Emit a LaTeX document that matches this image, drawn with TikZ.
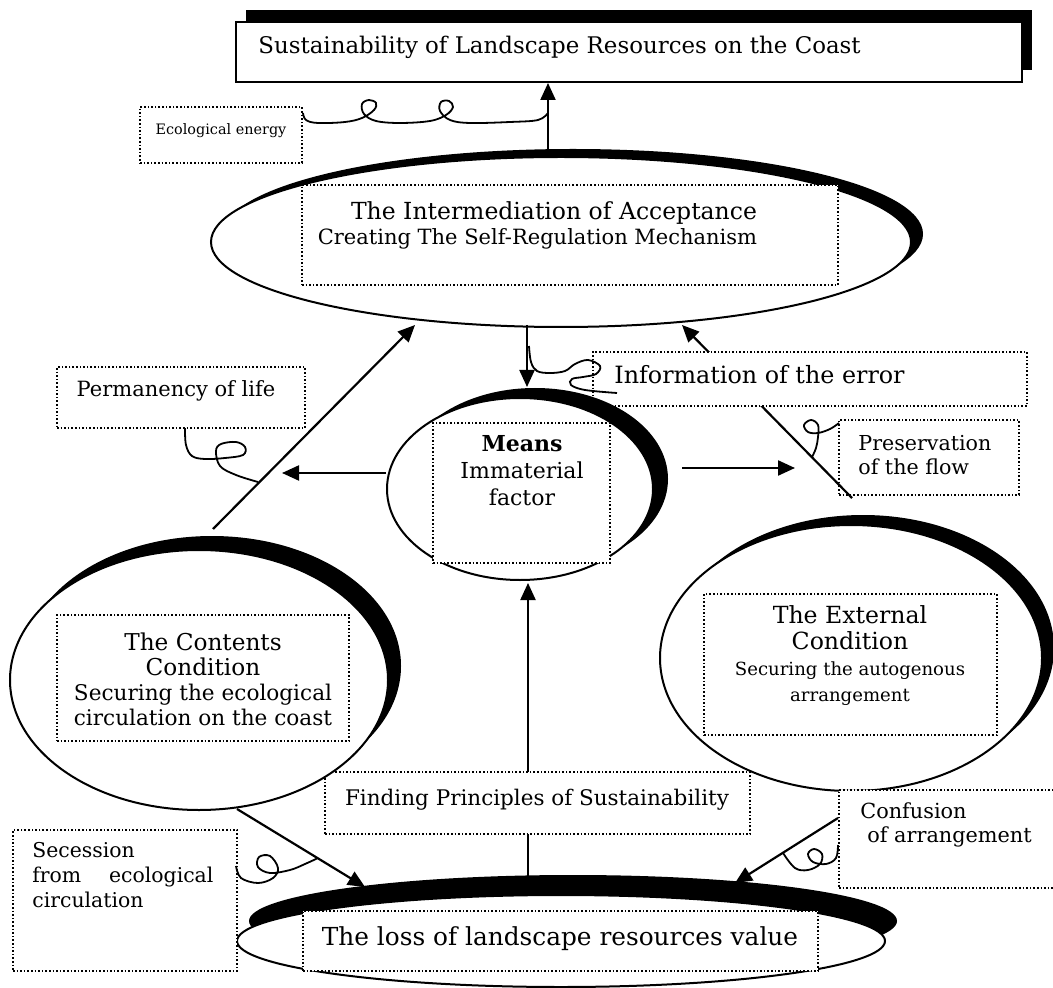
\documentclass[tikz,border=0pt]{standalone}
\usepackage{fontspec}
\setmainfont{DejaVu Serif}
\usetikzlibrary{shapes.geometric,shadows,arrows.meta}
\newcommand{\fsz}[2]{\fontsize{#1}{#2}\selectfont}
\begin{document}
\begin{tikzpicture}[x=0.5pt,y=-0.5pt,
  oval/.style={ellipse, draw, line width=1pt, fill=white, inner sep=0pt},
  dbox/.style={draw, densely dotted, line width=0.8pt, fill=white, inner sep=0pt},
  solidbox/.style={draw, line width=1pt, fill=white, inner sep=0pt},
  txt/.style={inner sep=0pt, align=center},
  arr/.style={line width=1.1pt, -{Triangle[length=8.5pt,width=7.5pt]}},
  squig/.style={line width=0.9pt},
]
\useasboundingbox (0,0) rectangle (1053,988);

% ---- top box
\node[solidbox, minimum width=393pt, minimum height=30pt,
  drop shadow={shadow xshift=5pt, shadow yshift=6pt, opacity=1, fill=black}] (top) at (629,52) {};
\node[txt, anchor=west, font=\fsz{11.45}{13}] (topt) at (258,47) {Sustainability of Landscape Resources on the Coast};

% ---- intermediation
\node[oval, minimum width=350pt, minimum height=85pt,
  drop shadow={shadow xshift=6pt, shadow yshift=4pt, opacity=1, fill=black}] (int) at (561,242) {};
\node[dbox, minimum width=268pt, minimum height=50pt] (intbox) at (570,235) {};
\node[txt, font=\fsz{11.75}{12.5}] (intt) at (554,225) {The Intermediation of Acceptance\\\fsz{10.5}{12.5}Creating The Self-Regulation Mechanism\hspace*{16.5pt}};
\coordinate (a1) at (548,149);
\draw[arr] (a1) -- (a1 |- top.south);

% ---- ecological energy
\node[dbox, minimum width=81pt, minimum height=28pt] (eco) at (221,135) {};
\node[txt, font=\fsz{7.2}{9}] (ecot) at (221,131) {Ecological energy};
\draw[squig] plot[smooth, tension=0.6] coordinates {(303,113) (306,120) (318,123) (345,122) (362,118) (374,110) (376,103) (369,100) (362,104) (364,114) (376,121) (400,123) (430,121) (446,115) (453,107) (449,101) (441,102) (440,111) (450,120) (470,123) (510,122) (538,120) (548,113)};

% ---- preservation box (under the diagonal)
\node[dbox, minimum width=90pt, minimum height=37.5pt] (pres) at (929,457.5) {};
\node[txt, anchor=west, align=left, font=\fsz{10.3}{12}] (prest) at (858,455) {Preservation\\of the flow};

% ---- diagonals and down arrow
\coordinate (ld1) at (213,529);
\coordinate (ld2) at (415,325);
\draw[arr] (ld1) -- (ld2);
\coordinate (rd1) at (852,498);
\coordinate (rd2) at (682,325);
\draw[arr] (rd1) -- (rd2);
\coordinate (d1) at (527,325);
\coordinate (d2) at (527,387);
\draw[arr] (d1) -- (d2);

% ---- information of the error
\node[dbox, minimum width=217pt, minimum height=27pt] (info) at (810,379) {};
\node[txt, anchor=west, font=\fsz{11.9}{13}] (infot) at (614,375) {Information of the error};
\draw[squig] plot[smooth, tension=0.6] coordinates {(529,346) (531,362) (537,371) (550,373) (565,371) (575,364) (588,360) (600,366) (596,374) (583,377) (572,379) (571,385) (585,390) (617,393)};

% ---- means
\node[oval, minimum width=133pt, minimum height=91pt,
  drop shadow={shadow xshift=7.5pt, shadow yshift=5pt, opacity=1, fill=black}] (means) at (520,489) {};
\node[dbox, minimum width=88.5pt, minimum height=70pt] (meansbox) at (521.5,493) {};
\node[txt, font=\fsz{11}{13.5}] (meanst) at (522,471) {\textbf{Means}\\Immaterial\\factor};
\coordinate (hl2) at (282,473);
\draw[arr] (means.west |- hl2) -- (hl2);
\coordinate (hr1) at (682,468);
\coordinate (hr2) at (795,468);
\draw[arr] (hr1) -- (hr2);

% ---- permanency of life
\node[dbox, minimum width=124pt, minimum height=30.5pt] (perm) at (181,397.5) {};
\node[txt, font=\fsz{10.5}{12}] (permt) at (176,391) {Permanency of life};
\draw[squig] plot[smooth, tension=0.6] coordinates {(185,428) (186,445) (192,456) (205,459) (225,458) (243,455) (245,447) (236,442) (221,444) (216,451) (220,466) (236,475) (258,482)};
\draw[squig] plot[smooth, tension=0.6] coordinates {(839,423) (830,429) (818,433) (808,432) (804,425) (811,420) (818,425) (818,437) (816,448) (812,457)};

% ---- vertical arrow from bottom and finding box
\coordinate (v1) at (528,876);
\coordinate (v2) at (528,583);
\draw[arr] (v1) -- (v2);
\node[dbox, minimum width=212.5pt, minimum height=31pt] (find) at (537.5,803) {};
\node[txt, font=\fsz{10.75}{12}] (findt) at (537,800) {Finding Principles of Sustainability};

% ---- contents condition
\node[oval, minimum width=189pt, minimum height=130pt,
  drop shadow={shadow xshift=6.5pt, shadow yshift=7pt, opacity=1, fill=black}] (cont) at (199,680) {};
\node[dbox, minimum width=146pt, minimum height=63pt] (contbox) at (203,678) {};
\node[txt, font=\fsz{11.6}{12.5}] (contt) at (203,679) {The Contents\\Condition\\\fsz{10.8}{12.5}Securing the ecological\\\fsz{10.8}{12.5}circulation on the coast};

% ---- external condition
\node[oval, minimum width=191pt, minimum height=133pt,
  drop shadow={shadow xshift=6pt, shadow yshift=5pt, opacity=1, fill=black}] (ext) at (851,658) {};
\node[dbox, minimum width=146.5pt, minimum height=70.5pt] (extbox) at (850.5,664.5) {};
\node[txt, font=\fsz{11.8}{13}] (extt) at (850,656) {The External\\Condition\\\fsz{9.05}{13.5}Securing the autogenous\\\fsz{9.05}{10.5}arrangement};

% ---- bottom ellipse
\node[oval, minimum width=324pt, minimum height=46pt,
  drop shadow={shadow xshift=6pt, shadow yshift=10pt, opacity=1, fill=black}] (bot) at (561,941) {};
\node[dbox, minimum width=257.5pt, minimum height=30pt] (botbox) at (560.5,941) {};
\node[txt, font=\fsz{12.4}{14}] (bott) at (560,939) {The loss of landscape resources value};

% ---- secession
\node[dbox, minimum width=112pt, minimum height=70.5pt] (sec) at (125,900.5) {};
\node[txt, anchor=north west, text width=90.5pt, align=left, font=\fsz{10.2}{12.5}] (sect) at (32,842) {Secession\\from\hfill ecological\\circulation};

% ---- confusion
\node[dbox, minimum width=115.5pt, minimum height=49pt] (conf) at (954.5,839) {};
\node[txt, anchor=north west, align=left, font=\fsz{10.4}{12}] (conft) at (860,802) {Confusion\\\hspace{3.5pt}of arrangement};

% ---- arrows into the bottom ellipse
\coordinate (c1) at (237,809);
\coordinate (c2) at (365,887);
\draw[arr] (c1) -- (c2);
\coordinate (e1) at (838,818);
\coordinate (e2) at (735,883);
\draw[arr] (e1) -- (e2);
\draw[squig] plot[smooth, tension=0.6] coordinates {(236,866) (241,878) (258,883) (273,878) (278,868) (270,856) (259,857) (258,867) (270,873) (290,870) (305,864) (318,858)};
\draw[squig] plot[smooth, tension=0.6] coordinates {(838,845) (836,858) (826,864) (813,862) (808,854) (814,849) (822,854) (820,864) (808,870) (795,868) (783,853)};
\end{tikzpicture}
\end{document}
